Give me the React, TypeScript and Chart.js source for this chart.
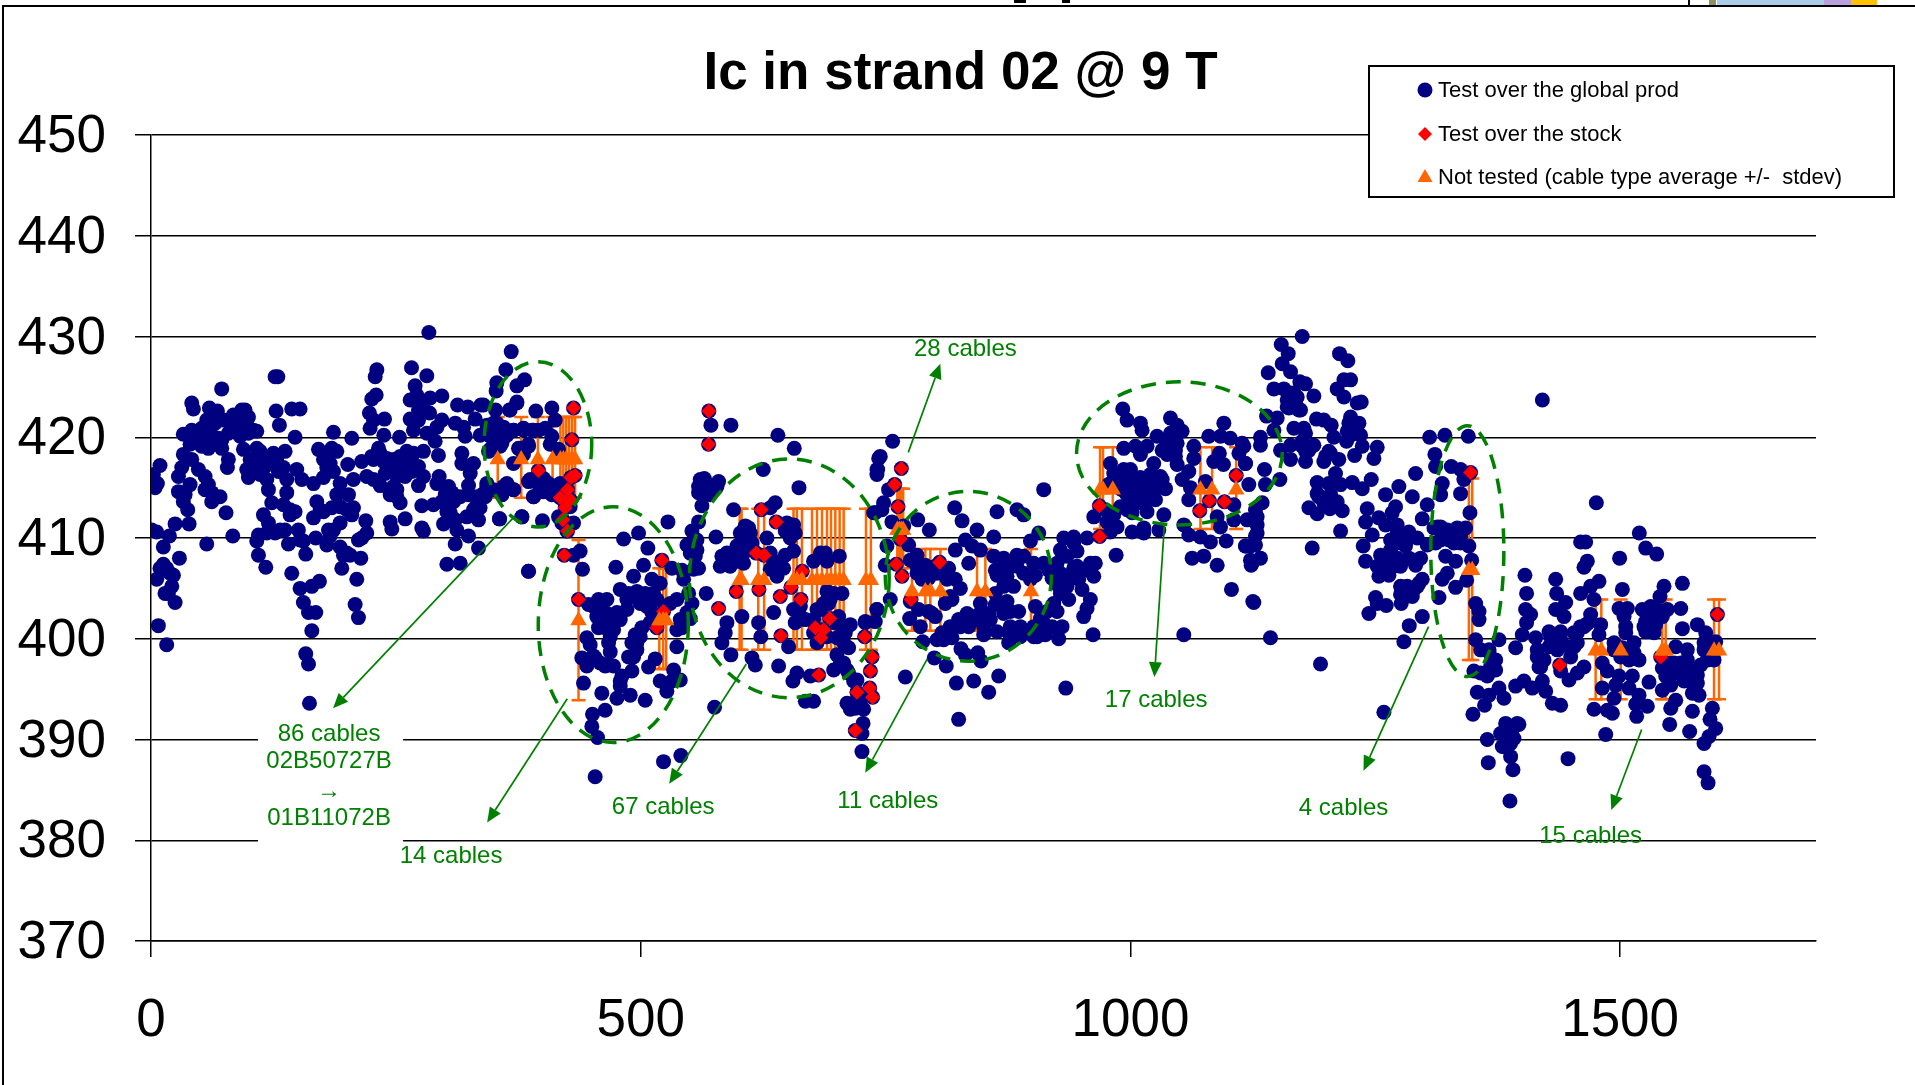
import React, { useEffect, useRef } from "react";
import { Chart, registerables } from "chart.js";

Chart.register(...registerables);

const chartTitle = "Ic in strand 02 @ 9 T";
const seriesGlobal = "Test over the global prod";
const seriesStock = "Test over the stock";
const seriesNotTested = "Not tested (cable type average +/-  stdev)";
const xTickValues = [0, 500, 1000, 1500];

// Flat x,y lists, region by region.
const globalFirstStretch = [
283.7,430.4,367.8,428.5,362.3,426.7,230.6,426.7,228.9,426,266,426.9,281.6,426.1,126.7,426,129.5,426,72.2,424.8,353.1,425.4,352.4,424.6,381.4,425.7,373.6,425.1,229.9,424.2,225.4,423.8,269.7,425.1,271.4,424.2,41.6,423.4,43.3,422.8,264.6,423.7,278.2,423.5,285,423.9,297,424.1,313,423.2,323.5,423,336.8,423.2,373.6,423.5,366,422.7,351.8,422.7,59.6,422.9,67.8,422.6,92.6,422.7,96,422.7,84.1,422.2,91,422.1,99.5,422,143.7,422.8,152.2,422.8,127.7,422.6,223,422.4,238.4,421.8,227.2,421.7,223.7,420.9,273.1,422.7,284.4,422.4,264.6,421.8,273.1,421.7,297,421.7,291.9,421,281.6,420.4,290.1,419.6,310.6,421.4,319.1,421,331,421.8,343,421.2,320.8,420.1,336.1,420.2,131.1,421.2,147.1,420,186.3,420.5,205,419.9,237.7,420.2,253.7,420,268,420.7,
33,420.3,41.6,420.7,51.8,420.9,43.3,420,53.5,420,39.9,419.3,48.4,419.4,58.6,418.9,68.8,419.9,72.2,418.9,79,420.4,87.5,420.6,91,421,99.5,420.4,108,420.6,97.8,421.7,65.4,421.4,56.9,421.7,73.9,421.7,
33,418.3,31.4,417,28,416.1,41.6,417.8,9.2,417.2,2.4,416.3,4.1,415,6.5,415.4,94.4,418.8,108,418.9,101.2,417.8,97.8,416.8,99.5,416,108,417.4,116.5,417.1,125,418.4,136.9,418.6,126.7,417.4,135.2,417,148.8,416.8,118.2,415.8,119.9,414.8,138.6,415.8,154,415.8,165.9,415.4,176.1,416,138.6,414.5,
171,418.8,184.6,418.9,176.1,417.8,179.5,417,186.3,416.6,193.1,415.4,200.9,417.3,189.7,418.6,206.7,415.8,215.2,417.6,220.3,416.1,227.2,415.8,234,415.2,225.4,418.1,232.3,418.9,240.8,417.9,247.6,417.8,239.1,416.4,251,416.1,261.2,418.6,264.6,417.6,278.2,418.6,273.1,417.1,278.2,416.1,273.1,415.2,259.5,416.1,247.6,415.1,244.2,414.3,254.4,413.5,
293.5,418.2,294.2,416.1,291.9,415.4,303.8,415.1,300.4,414.3,308.9,413.6,317.4,418.4,317.4,417.4,329.3,417.4,325.9,416.4,324.2,415.2,342.9,415.4,339.5,414.4,315.7,414.1,349.7,414.8,276.5,413.2,288.4,413.3,302.1,412.6,331,413,322.5,412.1,334.4,411.8,298.7,411.4,310.6,411.8,312.3,410.8,324.2,410.2,310.6,409.4,334.4,409,302.1,407.4,315.7,407.5,355.9,411.9,378.7,412.1,385.5,406.7,259.5,411.9,244.2,411.6,245.9,410.9,276.5,411,278.2,410.7,
363.4,415.4,370.2,414.8,358.2,414.3,344.6,418.6,356.5,419.1,370.2,420.7,380.4,420.7,388.9,420.7,395.7,420.7,377,418.9,385.5,419.1,385.5,415.6,390.6,414.1,
39.9,415.3,28,414.6,34.8,414.3,33,413.6,37.5,412.8,48.4,416.8,55.2,416.1,55.2,414.8,62,414.5,70.5,414.1,62,413.6,76.6,412.5,79,417.8,78,417,
24.6,411.4,38.9,411.4,0.7,410.8,5.8,410.6,18.8,410.2,12.6,409.1,29,408,12.6,407.4,16,407,22.9,406.3,5.8,405.9,14.3,404.5,21.2,405.2,24.6,403.6,7.5,401.3,16,399.4,56.9,409.4,83.5,410.2,
114.8,412.3,119.9,411.5,109.7,410.3,108,409.7,109.7,408.3,117.2,407.1,131.8,410.8,136.9,410.8,123.3,410.7,150.5,410.8,155.6,409.7,140.3,409.4,158,408.4,168.2,410,181.2,410.8,179.5,409.3,193.1,411.5,193.1,409.1,196.5,408.3,203.3,408.3,214.2,408,194.8,407,210.1,405.9,208.4,403.4,211.8,402.1,
123.3,413.5,135.2,413.3,142,412.3,147.1,412.6,169.3,413.6,165.9,412,176.1,412.6,184.6,413,189.7,414.3,201.6,414.3,199.9,412.8,205,412.3,219.3,411.7,220.3,410.5,211.8,409.8,
143.7,406.5,152.2,405,164.2,405.2,172,405.7,155.6,403.6,160.8,402.6,168.2,402.6,164.2,400.8,158,398.5,160.8,397.5,161.8,393.6,
39.9,420,46.7,420.4,60.3,420.7,65.4,422,60.3,419.7,51.8,419.1,91,421.7,96,421.2,104.6,420.7,91,420.1,72.2,419.7,80.7,421.4,111.4,418.6,101.2,416.6,111.4,416.3,119.9,417.6,128.4,417.9,130.1,416.6,179.5,418.4,182.9,417.4,234,418.4,237.4,417.6,227.2,417.8,244.2,417.1,254.4,418.1,268,418.4,254.4,417.1,266.3,416.6,251,414.8,251,414.1,307.2,414.5,296.9,413.6,305.5,412.5,303.8,411.8,332.7,414.1,324.2,414.3,329.3,412.8,363.4,420.2,349.7,420.2,353.1,421.4,346.3,421.1,
12.6,406.8,19.4,406.5,9.2,407,17.7,404.5,118.2,410.5,126.7,410.5,186.3,410.8,182.9,410.2,152.2,409.8,199.9,408.5,215.2,410,206.7,413,142,412.8,172.7,412.8,193.1,413.1,33,414.5,58.6,415.3,
];

const globalSecondStretch = [
339.5,423.2,373.5,423.4,366.7,422.7,392.9,422.6,409.3,422.9,412.7,421.7,349.7,421.4,359.9,421,370.1,420.7,380.3,420.9,390.5,420.7,402.5,420.9,346.3,420.1,359.9,419.9,358.2,419.4,346.3,418.8,375.2,418.9,385.4,419.3,380.3,418.3,409.3,420.1,407.6,419.3,416.1,418.8,370.1,417.4,387.1,415.8,400.8,415.9,395.7,415.3,405.9,415.4,400.8,414.6,409.3,414.3,390.5,414.1,359.9,415.1,370.1,414.8,358.2,414.3,342.9,415.1,341.2,414.1,417.8,415.4,416.1,412.1,419.5,411.5,355.8,411.9,378.6,412.1,399.7,411.7,424.6,410.7,428,413.1,431.4,411.5,412.7,414.3,336,413,
438.2,408.7,431.4,408.3,440.6,406.9,385.4,406.7,446.7,403.4,456.9,403.9,465.5,403.9,460.3,402.9,463.7,401.9,456.9,401.1,468.9,400.2,472.3,401.9,475.7,402.6,485.9,402.9,479.1,404.9,487.6,404.5,496.1,404.7,504.6,404.5,511.4,405.9,519.9,405.5,492.7,406.2,502.9,407.3,474.6,407.1,482.5,409.9,497.8,410.5,507.3,409,527.8,411.6,531.9,407,542.1,406.8,543.8,405.9,548.9,404.5,552.3,403.5,536.9,403.9,530.1,403.5,540.4,401.9,550.6,402,536.9,400.9,511.4,402.6,509.7,401.6,501.2,401.1,494.4,400.4,491,399.6,496.1,398.9,487.6,398.2,536.9,399.2,514.8,398,508,397.2,491,396.8,480.8,396.3,479.1,395.3,475.7,394.1,489.3,394.4,504.6,393.9,519.9,395.8,526.7,394.8,533.6,396.9,531.9,395.8,540.4,395.9,
445,400.1,448.4,399.4,439.9,398.1,453.5,398.1,445,397.3,463.7,397.3,472.3,397.3,468.9,398.7,441.6,395.6,460.3,394.6,463.7,392.9,450.8,392.5,450.1,391.3,455.9,390.2,453.5,386.3,523.3,387.8,541,388.4,575.4,393.2,
566.9,404.5,571.7,421.2,592.1,421.2,564.9,415.9,579.5,415.6,559.1,415.1,571,415,577.8,415.1,564.2,414.3,562.5,413.2,559.1,411.6,552.3,410.7,547.2,409.3,557.4,409.8,555.7,408.2,559.1,407,553.9,406.9,576.8,410.1,
594.8,412.8,625.1,416.8,640.1,420.2,656.8,418.9,661.6,415,637.4,413.5,632.3,413,
606.8,411.2,601.7,410.5,611.9,410.5,608.5,409.5,598.2,409.2,628.9,410,647.6,410.7,656.1,411.3,649.3,411.5,652.7,410,588,408.5,582.9,408.2,581.2,407.2,589.7,407.3,598.2,407.7,605,408.5,632.3,408.5,635.7,407.2,645.9,407,647.6,408.3,656.1,408.7,676.5,407.7,688.5,408.5,690.2,407.7,702.8,408.2,
690.2,404.7,705.5,404.5,603.3,402.2,635.7,402.6,620.4,401.6,622.7,400.2,588,401.6,586.3,400.6,582.9,399.6,592.1,398.4,613.6,398.1,617,397.4,640.8,397.3,659.5,396.6,655.4,395.8,673.2,396.3,676.5,393.8,668.1,393.8,651,399.2,
663,402.2,657.8,401.6,683.4,402.9,676.5,401.9,691.9,403.5,702.1,402.2,714,401.4,708.9,400.6,700.4,400.1,680,399.6,712.3,399.1,700.4,398.4,707.2,397.6,697,396.9,712.3,396.6,720.8,395.9,710.6,393.6,719.1,393.1,727.6,393,727,391.6,725.9,390.6,725.9,388.8,729.3,401.6,741.2,402.9,737.9,412.5,743,417.9,741.3,416.8,
559.1,414.5,567.6,415.4,571,414.3,560.8,415.8,554,409.5,557.4,408.8,550.6,408.5,605.1,410.8,610.2,411,603.4,409.8,613.6,409.5,594.8,408.2,591.4,407.2,605.1,407.5,635.7,407.7,649.3,411.2,657.8,410.5,632.3,406.9,639.1,406.2,683.4,408.5,
680,402.9,686.8,403.5,697,404.5,693.6,403.9,703.8,401.4,697,401.6,690.2,400.2,707.2,399.6,703.8,397.6,710.6,396.9,717.4,395.8,720.8,394,727.6,394.3,714,393,656.1,402.9,663,403.2,668.1,401.9,676.5,400.6,
451.8,403.2,455.2,402.2,465.5,402.5,479.1,401.9,472.3,400.9,463.7,401.1,485.9,403.9,492.7,404.2,499.5,403.5,506.3,403.9,513.1,404.5,516.5,403.9,506.3,403.2,499.5,400.2,451.8,398.3,458.6,397.6,467.2,397.4,467.2,399.6,547.2,402.6,542.1,401.1,496.1,399.6,492.7,398.2,479.1,395.8,
];

const globalThirdStretch = [
757.2,419.6,744.6,418.1,741.9,416.8,741.2,416.3,753.1,414.8,748,413.5,739.5,412.5,746.3,412.8,756.5,411.6,768.5,411.2,782.8,411.8,794.7,410.8,773.6,409.3,751.4,409.2,749.7,407.3,741.2,402.9,754.8,403.9,729.3,401.7,739.5,401.7,
820.6,413,828.1,411.7,843.4,410.8,863.8,412.6,884.2,412.8,891,412.3,911.5,414.8,860.4,410.1,906.4,410.5,897.9,409.7,831.5,409.8,821.2,408.8,838.3,409.2,846.8,408.8,834.9,407.5,
782.1,408.3,790.6,407.3,775.3,407.8,800.8,407.2,814.4,407,782.1,406.5,794,406,821.2,405.9,826.4,405,860.4,408.2,870.6,408,862.1,406.8,863.8,406.3,884.2,408.3,891,408.2,877.4,407.2,901.3,407.5,911.5,407.5,903,406.3,916.6,406.8,931.9,410,942.1,410.1,955.7,410,945.5,408.7,935.3,408.2,925.1,407.5,942.1,407,935.3,406.2,964.2,407.5,955.7,406.8,962.6,406.2,947.2,405.9,950.6,404.9,959.1,403.9,928.5,404.5,937,403.9,955.7,403,952.3,402.2,925.1,402.7,914.9,402.7,930.2,401.2,911.5,401.5,903,403.2,908.1,402,920,401.2,
870.6,405.2,862.1,404.5,874,403.7,885.9,402.7,870.6,402.5,855.3,402.5,845.1,402.4,833.2,402.5,824.6,401.9,816.1,401.2,834.9,401.2,850.2,401.2,850.2,400.4,807.6,400.6,817.8,400.1,802.5,399.9,863.8,400.7,875.7,400.6,875.7,399.6,887.6,401.2,894.5,400.7,901.3,400.2,913.2,400.4,926.8,400,961.9,400.4,1054.5,400.4,787.9,399.7,799.8,398.1,812,397.3,827,399,831.5,398.4,844.1,398.6,847.5,397.8,770.2,396.2,822.3,395.6,840,395.8,865.5,396.3,855.3,394.7,934,395.1,824.6,392,
774.6,402,783.8,402.9,794,402.7,800.8,402.2,785.5,401.2,811,403.5,817.8,403.9,775.3,403.7,
985.4,408.3,962.6,412.1,977.9,415.3,983,412.3,974.5,412.8,986.4,411.1,979.6,410.6,976.2,411.6,1001.7,410.6,1013.6,410.5,1013.6,411,1029,410.8,1034.1,412.3,1054.5,411.3,1059.6,410.3,1071.5,410.1,1081.7,409.6,1097.8,409.7,1063,408,1074.9,408.2,1088.6,407.3,1103.2,404.9,1125,403.7,1117.5,409.2,1124.3,407.5,1092,411.1,
992.2,422.8,996.6,421.7,1010.2,421.4,1011.9,420.7,1027.2,420.1,1040.9,421.9,1047.7,421.2,1052.8,420.6,1042.6,419.9,1095.4,421.4,1080,420.1,1092,420.1,1102,419.9,1114.1,419.4,
993.2,418.9,1005.1,419.1,1017,419.1,1010.2,418.3,1032.4,418.7,1044.3,419.1,1046,418.1,1064.7,419.1,1064.7,417.9,1090.8,418.4,1085.1,417.6,1095,417.3,1110.8,418.4,1117.5,417.4,
979.6,417.4,993.2,416.8,1023.8,417.4,1030.6,416.1,1047.7,417.3,1052.8,415.8,1059.6,416.6,988.1,415.8,996.6,415.8,1010.2,416,1020.4,416.3,1035.8,414.9,1061.3,415,1059.6,413.8,1023.8,414.6,1013.6,415,1003.4,415.1,991.5,414.8,1000,413.6,1017,413.8,1025.6,413.8,1001.7,412.5,1017,412.6,1076.6,415.6,1105.6,413.3,1088.6,412.1,1105.6,411.8,
1006.8,415.8,1003.4,414.3,1013.6,414.1,1020.4,415.4,996.6,414.3,1008.5,413.5,989.8,414.9,1023.8,415.4,1032.4,415.8,1037.5,419.4,1037.5,418.3,1046,418.7,1047.7,419.4,1040.9,420.4,1122.6,407.8,1129.4,412.1,1129.4,410.5,1122.6,409.2,
920,407.2,928.5,406.5,935.3,405.2,926.8,405.2,945.5,407.2,959.1,407.5,942.1,409.5,928.5,408.8,920,406,921.7,403.5,909.8,402.5,901.3,401.2,904.7,400.2,884.2,407.2,870.6,407.2,891,406.5,897.9,405.9,874,406.2,880.8,405.2,877.4,402.7,862.1,403.4,846.8,403.5,840,401.9,826.4,401.2,809.3,399.9,857,401.9,877.4,401.2,887.6,400.2,
782.1,407.2,792.3,406.8,802.5,406.5,811,406.8,787.2,405.9,812.7,405.9,816.1,404.2,797.4,402.5,979.6,415.4,983,416.4,1000,416.8,989.8,413.1,996.6,412.8,
];

const globalLastStretch = [
1175.4,430,1154,429.2,1161.1,428.3,1155,427.3,1163.5,426.5,1140.7,426.4,1213.5,428.3,1222,427.6,1218,425.7,1224.8,425.7,1211.1,424.8,1218,424,1173,425.5,1178.8,425.3,1146.5,424.8,1156.7,424.8,1166.9,424.4,1187.3,424.1,1160.1,423.7,1168.6,423.4,1161.8,422.9,1173.7,422.7,1231.6,423.4,1235.7,423.5,1139,422.1,1149.9,421.9,1190,421.8,1197.5,421.7,1205,421.2,1224.8,422,1233.3,421.4,1166.9,420.9,1177.1,420.9,1146.5,420.7,1132.8,420,1221.4,420.6,1235,420.2,1207.7,420,1115.8,419.1,1132.8,419.2,1153.3,418.7,1163.5,419.2,1175.4,419.6,1187.3,419.2,1178.8,418.6,1220.7,419.6,1236.7,419.1,1252,419,1163.5,417.8,1178.8,417.6,1248.6,417.9,1228.9,418.2,1212.8,417.8,1202.6,418.6,1197.5,417.6,1117.5,417.4,
1136.9,416.8,1209.4,416.4,1120.9,415.3,1137.9,415.3,1152.6,415.8,1190.7,415.5,1202.6,415.4,1214.6,415.3,1226.5,415.5,1236.7,414.9,1245.9,415.8,1192.4,414.1,1204.3,414.3,1211.1,413.6,1134.5,413.5,1182.2,413,1190.7,412.4,1203.7,412.9,1216.3,412.7,1127.7,412.8,1119.2,411.8,1129.4,411.3,1127.7,410.2,1214.6,410.7,1117.5,409.2,1127.7,409.3,1185.6,409,1132.8,408,1123.3,407.3,1126,403.6,1143,400.1,1194.1,397.5,1258.8,392.7,
1241.8,412.9,1240.1,411.6,1253.7,412,1260.5,411.3,1246.9,410.3,1237.7,409.2,1240.1,407.7,1274.1,415.1,1260.5,414.3,1287.8,414.1,1291.2,416.4,1270.7,413.1,1267.3,412.5,1255.4,408.3,1272.4,410.6,1284.4,410.6,1292.9,410,1272.4,409.5,1280.9,409.2,1263.9,408.2,1272.4,408,1284.4,408,1296.3,408,1291.2,407.3,1252,407.2,1260.5,407,1269,407.2,1253.7,406.2,1263.9,406.3,1303.1,413.3,1298,411.9,1309.9,411,1323.5,410.8,1333.7,411,1342.2,411,1303.1,409.3,1311.6,409.5,1325.2,409.8,1337.1,409.5,1345.6,409.2,1321.8,408.2,1332,407.7,1348.4,407.8,1323.5,406.5,1318.4,405.9,1298,405.9,1292.9,405.2,1275.8,405.2,1282.6,405.2,1275.8,404.4,1287.8,404.2,1332,405.1,1343.3,405.8,1315,404.1,1250.3,404.1,1261.2,403.3,1252,403.5,1243.5,402.5,1276.5,403.5,1298,402.2,1284.7,401.3,1279.2,399.7,
1305.5,420,1321.1,420.2,1345,420.1,1310.9,418.3,1311.6,417.1,1327.6,417.1,1337.1,416.8,1340.5,415.8,1318.4,415.4,1316.7,414.3,1337.1,414.4,1346.7,412.5,
1352.5,403.5,1355.9,402.7,1355.9,401.9,1352.5,399.9,1376.3,399.9,1357.6,398.9,1366.1,398.7,1372.9,397.9,1364.4,396.4,1350.7,396.8,1372.9,396.9,
1402.8,406.3,1404.5,404.5,1403.5,402.9,1408.6,402.4,1404.5,401.6,1400.1,400.4,1393.3,399.1,1413.7,400.1,1427.4,400.7,1439.3,400.7,1434.2,405.9,1435.2,404.5,1444.4,403.6,1434.2,402.9,1442.7,402.2,1415.4,398.2,1427.4,399.2,1435.9,398.9,1417.2,397.2,1449.5,398.2,1456.3,399.6,1452.9,400.6,1459.7,401.2,1469.9,402.4,1463.1,397.2,1456.3,396.6,1447.8,395.9,1439.3,396.8,
1464.8,409.6,1459.7,409.6,1466.5,407.7,1463.1,407.1,1475.7,413.5,1499.5,408,1519.6,410.5,1526.1,409,1537.3,408.4,1420.6,423.7,
1478.4,405.7,1469.9,405.2,1459.7,404.5,1473.3,403.9,1502.3,404.9,1498.9,403,1507.4,403,1505.7,401.2,1480.1,401.4,1478.4,400.4,1493.8,399.6,1502.3,399.1,1514.2,399.6,1519.3,397.9,1481.8,397.6,1486.9,396.8,1498.9,396.3,1495.5,395.4,1481.8,395.1,1512.5,396.3,1509.1,395.1,1519.3,394.4,1529.5,395.7,1493.8,394.1,1473.3,393,1486.9,392.9,1492.1,392.6,1515.9,393.5,1527.8,393.3,1516.9,392.3,1485.3,390.5,
1544.8,405.2,1540.7,404.2,1563.6,405.5,1522.7,402.9,1531.2,403.2,1561.9,403,1548.2,402.9,1538,402,1526.1,401.7,1526.1,400.7,1534.6,400.6,1563.6,401,1578.9,401.4,1587.4,400.6,1597.6,399.7,1556.8,399.2,1568.6,398.9,1585.7,398.9,1595.9,397.9,1582.3,397.4,1568.6,397.9,1555,397.6,1543.1,397.1,1546.5,396.3,1558.5,396.6,1578.9,396.4,1565.3,395.8,1578.9,395.6,1543.1,394.9,1551.7,395.4,1573.8,394.6,1580.6,394.4,1556.8,393.9,1551.7,393.1,1573.8,392.8,1594.2,393.1,1591.8,392,1597.6,391.1,1550.6,391.5,1571,390.8,1590.8,390.3,1585.7,389.6,1585.7,386.8,1589.8,385.7,
1354.2,394.7,1366.1,394.4,1361.6,393.4,1349.7,392.5,1376.3,395.1,1381.4,394.1,1393.3,395.3,1401.8,395.8,1410.3,395.1,1420.6,395.8,1424,394.8,1430.8,393.6,1439.3,393.4,
1383.1,391.6,1395,391.6,1378,390.6,1391.6,390.1,1379.7,389.3,1388.2,389.6,1364.4,390,1388.2,388.3,1390.6,387,1365.4,387.7,1387.5,383.9,1446.8,388.1,
1163.5,424.4,1160.1,423,1166.9,423,1170.3,424,1172,422.7,1178.8,420.4,1175.4,419.1,1182.2,418.7,1265.6,409.8,1275.8,409.8,1265.6,408.8,1282.6,409.8,1262.2,407.5,1255.4,407.2,1275.8,407.2,1289.5,407.8,1294.6,405.5,1289.5,404.9,1323.5,410.1,1330.3,409.5,1316.7,409.8,1316.7,411.1,1330.3,410.6,1337.1,410.2,1313.3,411.1,1272.4,411.3,1199.2,418.1,1204.3,418.4,1223.1,421.4,1228.2,421,1224.8,420.2,1190.7,414.4,1197.5,413.5,
1529.5,402.9,1538,402.9,1527.8,402.2,1536.3,401.4,1543.1,402.2,1529.5,401.2,1524.4,401.2,1504,402.2,1505.7,400.6,1493.8,398.9,1514.2,398.6,1509.1,397.9,1500.6,398.2,1555,396.6,1548.2,397.1,1565.3,396.9,1573.8,396.8,1551.7,397.6,1561.9,397.6,1589.1,397.9,1592.5,398.9,1585.7,399.6,1575.5,395.3,
1415.4,398.9,1422.3,397.9,1418.9,397.2,1429,400.2,1432.5,399.6,1439.3,399.9,1447.8,399.2,1452.9,399.2,1456.3,400.6,1463.1,401.2,1466.5,401.5,1384.8,391.3,1389.9,391,1384.8,390.3,1381.4,389.3,1384.8,389.3,1396.7,391.5,1366.1,398.9,1367.8,397.3,1357.6,396.6,1364.4,396.3,
];

const stockPoints = [
431.4,422.9,429.7,419.75,395.6,416.7,428.7,416,433,416.2,425.3,414.8,417.8,414,428,413.8,422.9,413,420.5,411.8,425.3,410.7,421.9,408.3,436.5,403.9,521.6,407.8,523.3,402.7,516.5,401.1,569.6,422.6,569.3,419.3,623,412.8,638.4,411.6,618,408.5,626,408.3,597.6,404.7,620.7,404.9,579.5,403,642.5,404.2,663.6,403.9,665,406.7,653.4,405.1,693,402,678.3,401.1,686.8,400.9,684,400.1,643.2,400.3,681.7,396.4,728.7,400.2,736.2,398.2,734.5,396.8,733.8,395.1,720.8,394.7,736.8,394.2,719.1,390.9,
766.1,416.9,759.3,415.3,762.7,413.1,765,409.9,761,407.4,766.8,406.2,805.2,407.6,776,403.9,968.3,413.2,968.7,410.15,1070.8,412.7,1080.7,413.7,1096,413.6,1108,416.2,1347.3,416.5,1438.3,397.4,1541.4,398.2,1599.3,402.4,
];

const notTestedX = [354,378,395,410,418,421,424,427,430,433,436.5,519,523,526,601,603,620,626,656,659.5,664.6,674.9,680,685.1,690.2,694.3,698.7,703.1,707.2,730,735,762,764,766,768,777,790.6,795.7,806,843.4,851.9,898.5,969,972,982,1071.5,1083.4,1108,1345.6,1349,1475,1480.8,1500.6,1543,1546.5,1595.9,1601];
const notTestedY = [417.8,417.8,417.8,417.8,417.8,417.8,417.8,417.8,417.8,417.8,401.8,401.8,401.8,401.8,405.8,405.8,405.8,405.8,405.8,405.8,405.8,405.8,405.8,405.8,405.8,405.8,405.8,405.8,405.8,405.8,405.8,410.8,410.8,410.8,410.8,404.7,404.7,404.7,404.7,404.7,404.7,404.7,414.8,414.8,414.8,414.8,414.8,414.8,406.8,406.8,398.8,398.8,398.8,398.8,398.8,398.8,398.8];
const notTestedLow = [414,414,414,414,414,414,414,414,414,414,393.9,397,397,397,398.9,398.9,398.9,398.9,398.9,398.9,398.9,398.9,398.9,398.9,398.9,398.9,398.9,398.9,398.9,398.9,398.9,407,407,407,407,400.8,400.8,400.8,400.8,400.8,400.8,400.8,410.9,410.9,410.9,410.9,410.9,410.9,397.9,397.9,394,394,394,394,394,394,394];
const notTestedHigh = [422,422,422,422,422,422,422,422,422,422,409.8,407,407,407,412.9,412.9,412.9,412.9,412.9,412.9,412.9,412.9,412.9,412.9,412.9,412.9,412.9,412.9,412.9,412.9,412.9,414.9,414.9,414.9,414.9,408.9,408.9,408.9,408.9,408.9,408.9,408.9,419,419,419,419,419,419,415.9,415.9,403.9,403.9,403.9,403.9,403.9,403.9,403.9];

// Hand-drawn annotations, in axis units: [cx, cy, rx, ry]
const cableEllipses = [[395,419.3,55,8.2],[472,401.4,76.6,11.7],[651.7,406,102,11.85],[834.5,406.2,84.8,8.43],[1050,418.4,105,7.1],[1344,408.7,37.3,12.45]];
// [fromX, fromY, tipX, tipY]
const cableArrows = [[370.8,412.1,185.9,393.1],[425,394.05,343.2,381.75],[607.8,397.5,529.1,385.6],[792.6,398,729.3,386.7],[773.2,418.5,805.9,427.3],[1034.7,411.3,1024.5,396.2],[1304.4,401.2,1238,386.9],[1522,391,1491,383]];
const cableLabels: [string, number, number][] = [["86 cables",181.8,390.5],["02B50727B",181.8,387.8],["→",181.8,384.9],["01B11072B",181.8,382.2],["14 cables",306.4,378.4],["67 cables",523,383.25],["11 cables",752.3,383.85],["28 cables",831.5,428.7],["17 cables",1026.3,393.85],["4 cables",1217.6,383.2],["15 cables",1469.9,380.4]];
const labelBackdrop = [109.3,392.4,257.4,379.6];

const NAVY = "#000080";
const RED = "#ff0000";
const ORANGE = "#ff6600";
const GREEN = "#008000";
const FONT = '"Liberation Sans", Arial, sans-serif';

const toPoints = (flat: number[]) => {
  const out: { x: number; y: number }[] = [];
  for (let i = 0; i + 1 < flat.length; i += 2) out.push({ x: flat[i], y: flat[i + 1] });
  return out;
};

const decor = {
  id: "decor",
  beforeDatasetsDraw(chart: any) {
    const { ctx, scales } = chart;
    const X = scales.x, Y = scales.y;
    ctx.save();
    ctx.fillStyle = "#fff";
    const [x0, y0, x1, y1] = labelBackdrop;
    ctx.fillRect(X.getPixelForValue(x0), Y.getPixelForValue(y0), X.getPixelForValue(x1) - X.getPixelForValue(x0), Y.getPixelForValue(y1) - Y.getPixelForValue(y0));
    ctx.strokeStyle = ORANGE;
    ctx.lineWidth = 2.5;
    notTestedX.forEach((v, i) => {
      const px = X.getPixelForValue(v);
      const lo = Y.getPixelForValue(notTestedLow[i]);
      const hi = Y.getPixelForValue(notTestedHigh[i]);
      ctx.beginPath();
      ctx.moveTo(px, lo); ctx.lineTo(px, hi);
      ctx.moveTo(px - 7, lo); ctx.lineTo(px + 7, lo);
      ctx.moveTo(px - 7, hi); ctx.lineTo(px + 7, hi);
      ctx.stroke();
    });
    ctx.restore();
  },
  afterDatasetsDraw(chart: any) {
    const { ctx, scales } = chart;
    const X = scales.x, Y = scales.y;
    ctx.save();
    ctx.strokeStyle = GREEN;
    ctx.lineWidth = 3.5;
    ctx.setLineDash([15, 10]);
    cableEllipses.forEach(([cx, cy, rx, ry]) => {
      ctx.beginPath();
      const px = X.getPixelForValue(cx);
      ctx.ellipse(px, Y.getPixelForValue(cy), X.getPixelForValue(cx + rx) - px, Y.getPixelForValue(cy - ry) - Y.getPixelForValue(cy), 0, 0, Math.PI * 2);
      ctx.stroke();
    });
    ctx.setLineDash([]);
    ctx.lineWidth = 1.7;
    ctx.fillStyle = GREEN;
    cableArrows.forEach(([a, b, c, d]) => {
      const x1 = X.getPixelForValue(a), y1 = Y.getPixelForValue(b);
      const x2 = X.getPixelForValue(c), y2 = Y.getPixelForValue(d);
      const t = Math.atan2(y2 - y1, x2 - x1);
      const L = 15, W = 6.5;
      ctx.beginPath();
      ctx.moveTo(x1, y1);
      ctx.lineTo(x2 - Math.cos(t) * L, y2 - Math.sin(t) * L);
      ctx.stroke();
      ctx.beginPath();
      ctx.moveTo(x2, y2);
      ctx.lineTo(x2 - Math.cos(t) * L - Math.sin(t) * W, y2 - Math.sin(t) * L + Math.cos(t) * W);
      ctx.lineTo(x2 - Math.cos(t) * L + Math.sin(t) * W, y2 - Math.sin(t) * L - Math.cos(t) * W);
      ctx.closePath();
      ctx.fill();
    });
    ctx.font = `24px ${FONT}`;
    ctx.textAlign = "center";
    ctx.textBaseline = "middle";
    cableLabels.forEach(([t, a, b]) => ctx.fillText(t, X.getPixelForValue(a), Y.getPixelForValue(b)));
    ctx.restore();
  },
  afterDraw(chart: any) {
    const { ctx } = chart;
    ctx.save();
    // page frame and scraps of the slide around the chart
    ctx.strokeStyle = "#000";
    ctx.lineWidth = 2;
    ctx.beginPath();
    ctx.moveTo(1915, 6); ctx.lineTo(3, 6); ctx.lineTo(3, 1085);
    ctx.moveTo(1689, 0); ctx.lineTo(1689, 6);
    ctx.stroke();
    ctx.fillStyle = "#000";
    ctx.fillRect(1014, 0, 12, 3);
    ctx.fillRect(1062, 0, 8, 3);
    ctx.fillStyle = "#8f8f60"; ctx.fillRect(1709, 0, 7, 5);
    ctx.fillStyle = "#a9cce8"; ctx.fillRect(1717, 0, 107, 5);
    ctx.fillStyle = "#b9a0dc"; ctx.fillRect(1824, 0, 27, 5);
    ctx.fillStyle = "#ffc000"; ctx.fillRect(1851, 0, 26, 5);
    // legend
    ctx.fillStyle = "#fff";
    ctx.fillRect(1369, 66, 525, 131);
    ctx.strokeStyle = "#000";
    ctx.lineWidth = 2;
    ctx.strokeRect(1369, 66, 525, 131);
    ctx.font = `22px ${FONT}`;
    ctx.textAlign = "left";
    ctx.textBaseline = "middle";
    const rows = [90, 134, 177];
    chart.data.datasets.forEach((d: any, i: number) => {
      const y = rows[i];
      ctx.fillStyle = d.backgroundColor;
      ctx.beginPath();
      if (i === 0) ctx.arc(1425, y, 7.5, 0, Math.PI * 2);
      else if (i === 1) { ctx.moveTo(1425, y - 7); ctx.lineTo(1432, y); ctx.lineTo(1425, y + 7); ctx.lineTo(1418, y); ctx.closePath(); }
      else { ctx.moveTo(1425, y - 8); ctx.lineTo(1432.5, y + 5); ctx.lineTo(1417.5, y + 5); ctx.closePath(); }
      ctx.fill();
      ctx.fillStyle = "#000";
      ctx.fillText(d.label, 1438, y + 1);
    });
    ctx.restore();
  },
};

export default function App() {
  const ref = useRef<HTMLCanvasElement>(null);
  useEffect(() => {
    const chart = new Chart(ref.current as HTMLCanvasElement, {
      type: "scatter",
      data: {
        datasets: [
          {
            label: seriesGlobal,
            data: toPoints([...globalFirstStretch, ...globalSecondStretch, ...globalThirdStretch, ...globalLastStretch, ...stockPoints]),
            backgroundColor: NAVY,
            borderColor: NAVY,
            pointRadius: 7.5,
            pointBorderWidth: 0,
            order: 3,
          },
          {
            label: seriesStock,
            data: toPoints(stockPoints),
            backgroundColor: RED,
            borderColor: RED,
            pointStyle: "rectRot",
            pointRadius: 7.5,
            pointBorderWidth: 0,
            order: 2,
          },
          {
            label: seriesNotTested,
            data: notTestedX.map((x, i) => ({ x, y: notTestedY[i] })),
            backgroundColor: ORANGE,
            borderColor: ORANGE,
            pointStyle: "triangle",
            pointRadius: 9.5,
            pointBorderWidth: 0,
            order: 1,
          },
        ],
      } as any,
      plugins: [decor],
      options: {
        animation: false,
        responsive: false,
        layout: { padding: { left: 6, right: 0, top: 0, bottom: 0 } },
        plugins: {
          legend: { display: false },
          tooltip: { enabled: false },
          title: {
            display: true,
            text: chartTitle,
            color: "#000",
            font: { family: FONT, size: 53, weight: "bold" },
            padding: { top: 42.5, bottom: 28.9 },
          },
        },
        scales: {
          x: {
            type: "linear",
            min: 0,
            max: 1700,
            afterFit(s: any) { s.height = 144; },
            afterBuildTicks(s: any) { s.ticks = xTickValues.map((value) => ({ value })); },
            border: { color: "#000", width: 1.5 },
            grid: { drawOnChartArea: false, drawTicks: true, color: "#000", lineWidth: 1.5, tickLength: 16 },
            ticks: {
              autoSkip: false,
              maxRotation: 0,
              color: "#000",
              padding: 33,
              font: { family: FONT, size: 53 },
              callback: (v: any) => String(v),
            },
          },
          y: {
            type: "linear",
            min: 370,
            max: 450,
            afterFit(s: any) { s.width = 145; },
            border: { color: "#000", width: 1.5 },
            grid: { color: "#000", lineWidth: 1.5, tickLength: 16 },
            ticks: {
              stepSize: 10,
              color: "#000",
              padding: 29,
              labelOffset: 2.5,
              font: { family: FONT, size: 53 },
              callback: (v: any) => String(v),
            },
          },
          rightMargin: {
            type: "linear",
            position: "right",
            afterFit(s: any) { s.width = 99; },
            border: { display: false },
            grid: { display: false },
            ticks: { display: false },
          },
        },
      } as any,
    });
    return () => chart.destroy();
  }, []);
  return (
    <div style={{ position: "fixed", left: 0, top: 0, width: 1915, height: 1085, background: "#fff" }}>
      <canvas ref={ref} width={1915} height={1085} style={{ display: "block" }} />
    </div>
  );
}
